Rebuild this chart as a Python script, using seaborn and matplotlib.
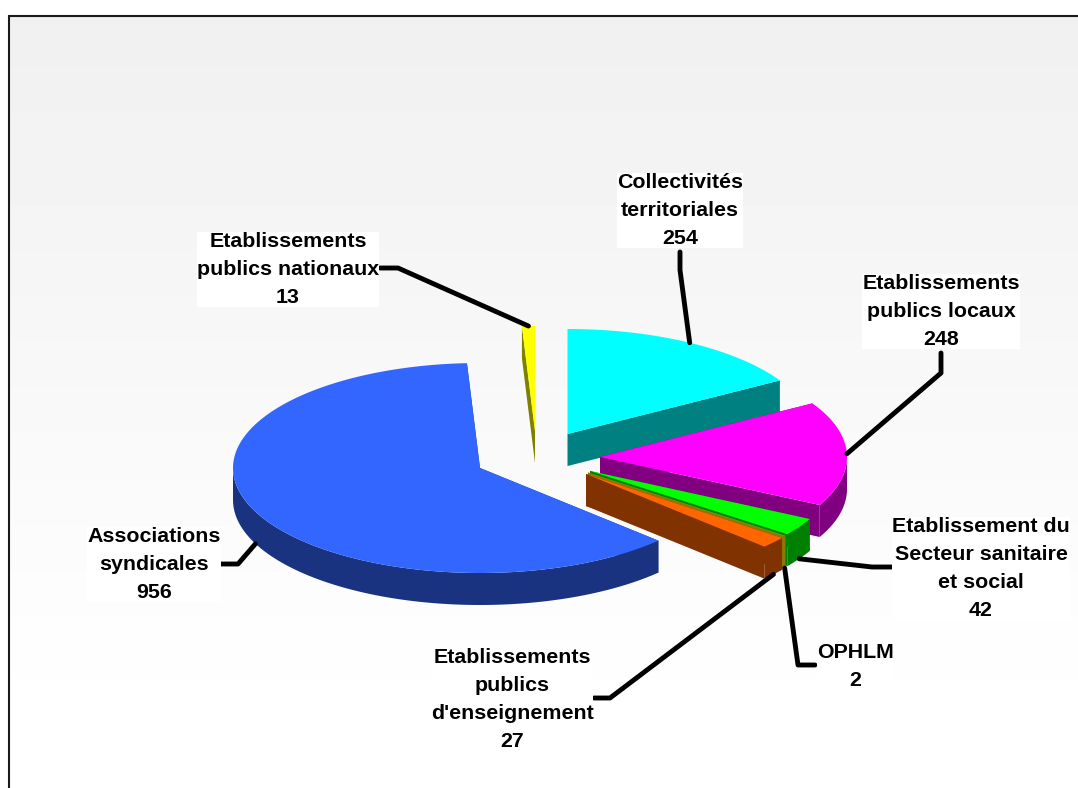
import matplotlib
matplotlib.use("Agg")
import matplotlib.pyplot as plt
import numpy as np
import seaborn as sns

# clockwise from 12 o'clock
names = [
    "Collectivités\nterritoriales",
    "Etablissements\npublics locaux",
    "Etablissement du\nSecteur sanitaire\net social",
    "OPHLM",
    "Etablissements\npublics\nd'enseignement",
    "Associations\nsyndicales",
    "Etablissements\npublics nationaux",
]
values = [254, 248, 42, 2, 27, 956, 13]
top_colors = ["#00FFFF", "#FF00FF", "#00FF00", "#5F9A1A", "#FF6600", "#3366FF", "#FFFF00"]
side_colors = ["#008080", "#800080", "#008000", "#8C7A00", "#803300", "#1A3380", "#808000"]

# layout: exploded slice apex in pixels, label centre, leader elbow
apex_x = [567.5, 600, 590, 588, 586, 480, 535]
apex_y = [434, 457, 471, 472.5, 474, 468, 431]
label_x = [680, 941, 981, 855, 512, 154, 288]
label_y = [210.5, 311.5, 568.5, 666.5, 699.5, 564.5, 269.5]
elbow_start = [(680, 252), (941, 353), (892, 567), (815, 665), (594, 698), (220, 564), (380, 268)]
elbow_mid = [(680, 270), (941, 373), (872, 567), (798, 665), (610, 698), (238, 564), (398, 268)]
front_leader = [False, False, True, True, True, True, False]

RX, RY, DEPTH = 247, 105, 32
draw_order = [0, 6, 1, 2, 3, 4, 5]

sns.set_theme(style="white")
plt.rcParams["font.family"] = ["Liberation Sans", "DejaVu Sans"]

fig = plt.figure(figsize=(10.78, 7.88), dpi=100, facecolor="white")
ax = fig.add_axes([0, 0, 1, 1])
ax.axis("off")

# backdrop fades to white by about y=650
grad = np.interp(np.linspace(16, 788, 256), [16, 650, 788], [0.941, 0.995, 1.0]).reshape(-1, 1)
ax.imshow(grad, extent=(10, 1078, 788, 16), cmap="gray", vmin=0, vmax=1, aspect="auto", zorder=0)
ax.set_xlim(0, 1078)
ax.set_ylim(788, 0)
ax.plot([9, 9, 1078], [788, 16, 16], color="#1a1a1a", lw=1.5, solid_joinstyle="miter", zorder=1)


def rim(cx, cy, angles, drop=0):
    rad = np.radians(angles)
    return cx + RX * np.cos(rad), cy - RY * np.sin(rad) + drop


sweep = np.array(values) / sum(values) * 360
ends = 90 - np.cumsum(sweep)
starts = ends + sweep

for i in draw_order:
    cx, cy = apex_x[i], apex_y[i]
    a0, a1 = starts[i], ends[i]

    # straight cut faces first, they end up hidden when they face away
    for a in (a0, a1):
        rx, ry = rim(cx, cy, a)
        ax.fill([cx, rx, rx, cx], [cy, ry, ry + DEPTH, cy + DEPTH], color=side_colors[i], lw=0, zorder=2)

    # rounded outer wall, only the front half shows
    hi, lo = min(a0, 0), max(a1, -180)
    if hi > lo:
        arc = np.linspace(hi, lo, 120)
        xs, ys = rim(cx, cy, arc)
        ax.fill(np.r_[xs, xs[::-1]], np.r_[ys, ys[::-1] + DEPTH], color=side_colors[i], lw=0, zorder=2)

    arc = np.linspace(a0, a1, 200)
    xs, ys = rim(cx, cy, arc)
    ax.fill(np.r_[cx, xs], np.r_[cy, ys], color=top_colors[i], lw=0, zorder=2)

# labels and leaders sit above every slice
for i in range(len(values)):
    mid = (starts[i] + ends[i]) / 2
    px, py = rim(apex_x[i], apex_y[i], mid, DEPTH if front_leader[i] else 0)
    sx, sy = elbow_start[i]
    mx, my = elbow_mid[i]
    ax.plot([sx, mx, px], [sy, my, py], color="black", lw=3.5, solid_capstyle="round",
            solid_joinstyle="round", zorder=3)
    ax.text(label_x[i], label_y[i], f"{names[i]}\n{values[i]}", ha="center", va="center",
            fontsize=15.4, fontweight="bold", color="black", linespacing=1.62,
            bbox=dict(facecolor="white", edgecolor="none", pad=0), zorder=4)

fig.savefig("out.png", dpi=100)
plt.close(fig)
